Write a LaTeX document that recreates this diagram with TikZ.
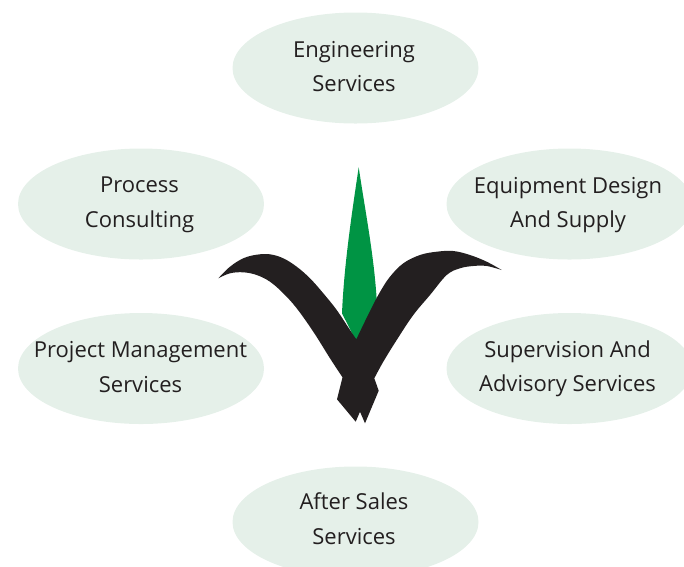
\documentclass[tikz,border=0pt]{standalone}
\usepackage{fontspec}
\setmainfont{Open Sans}
\usetikzlibrary{shapes.geometric}
\definecolor{pale}{HTML}{E5F0E9}
\definecolor{leaf}{HTML}{009444}
\definecolor{ink}{HTML}{231F20}
\tikzset{svc/.style={ellipse,fill=pale,inner sep=0pt,minimum width=246pt,minimum height=111pt},
 svctext/.style={inner sep=0pt,align=center,text=ink,font=\fontsize{22}{34.5}\selectfont}}
\begin{document}
\begin{tikzpicture}[x=1pt,y=-1pt]
\useasboundingbox (0,0) rectangle (684,566);
\clip (0,0) rectangle (684,566);
\node[svc] (eng) at (355.5,68) {};
\node[svc] (proc) at (141,204) {};
\node[svc] (equip) at (569.5,204) {};
\node[svc] (proj) at (141,368.5) {};
\node[svc] (sup) at (569.5,368.5) {};
\node[svc] (after) at (355.5,522) {};
\node[svctext] (englab) at (354,66.5) {Engineering\\Services};
\node[svctext] (proclab) at (139.5,205) {Process\\Consulting};
\node[svctext] (equiplab) at (568,205) {Equipment Design\\And Supply};
\node[svctext] (projlab) at (140.5,367) {Project Management\\Services};
\node[svctext] (suplab) at (567.5,369) {Supervision And\\Advisory Services};
\node[svctext] (afterlab) at (354,518.5) {After Sales\\Services};
\fill[leaf] (358.7,167.3) .. controls (352,212) and (344,265) .. (342,313.3) -- (356.3,341.7) -- (376.7,300) .. controls (374,255) and (365,210) .. (358.7,167.3) -- cycle;
\fill[ink] plot[smooth,tension=0.6] coordinates {(218.3,278.3) (230,266.7) (243.3,258.3) (256.7,254.7) (270,254.3) (283.3,258.3) (296.7,266.7) (310,278.3) (323.3,293.3) (336.7,310) (350,330) (356.3,339.3)}
 -- plot[smooth,tension=0.6] coordinates {(356.3,339.3) (370,311) (380,292) (390,276.7) (403.3,263.3) (420,255) (436.7,251.7) (453.3,251) (470,255) (486.7,261.7) (501.7,270)}
 -- plot[smooth,tension=0.6] coordinates {(501.7,270) (486.7,266) (473.3,266) (460,268.3) (446.7,275) (430,295) (413.3,315) (396.7,340) (383.3,361.7) (374.3,378.3)}
 -- (378.7,390.7) -- (365,423.3) -- (360,411.7) -- (355.7,421.7) -- (337,399.3) -- (342.5,377.3)
 -- plot[smooth,tension=0.6] coordinates {(342.5,377.3) (330,358.3) (313.3,331.7) (296.7,308.3) (283.3,293.3) (270,281.7) (256.7,275) (243.3,272.3) (230,273.3) (218.3,278.3)} -- cycle;
\end{tikzpicture}
\end{document}
